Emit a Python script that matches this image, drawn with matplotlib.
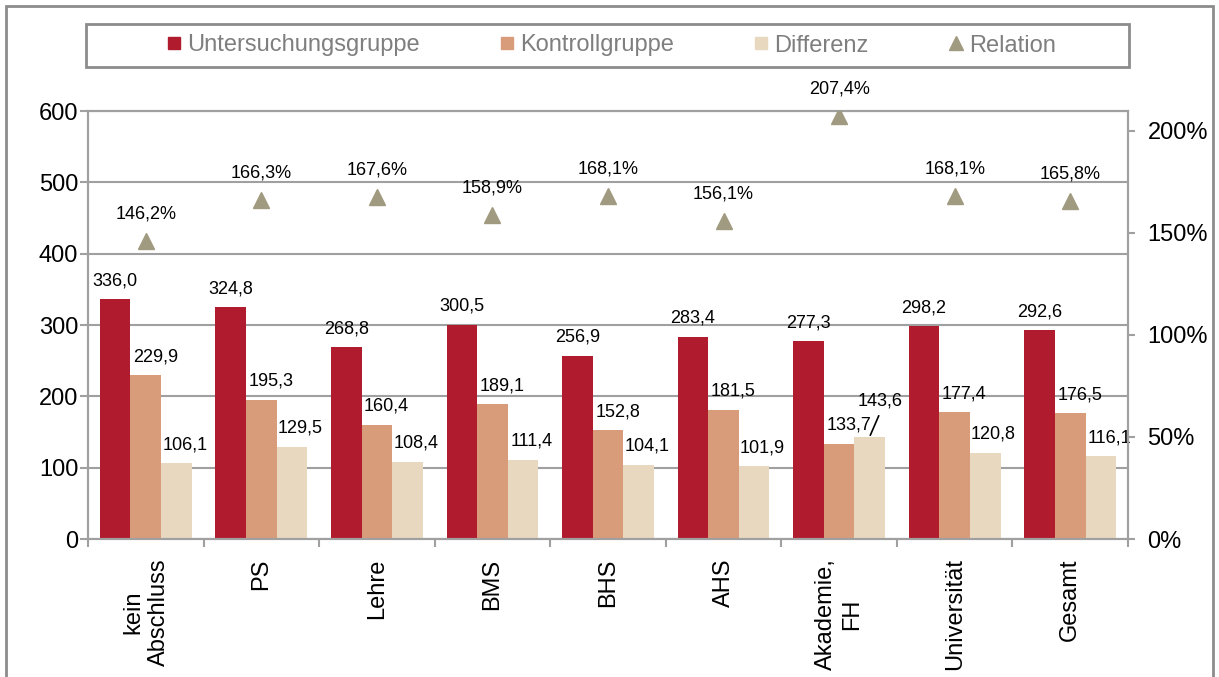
import numpy as np
import matplotlib
matplotlib.use("Agg")
import matplotlib.pyplot as plt
from matplotlib.lines import Line2D
from matplotlib.patches import Rectangle
from matplotlib.ticker import FuncFormatter

plt.rcParams['font.family'] = ['Liberation Sans', 'DejaVu Sans']

categories = ["kein\nAbschluss", "PS", "Lehre", "BMS", "BHS", "AHS", "Akademie,\nFH", "Universität", "Gesamt"]
untersuchung = [336.0, 324.8, 268.8, 300.5, 256.9, 283.4, 277.3, 298.2, 292.6]
kontroll = [229.9, 195.3, 160.4, 189.1, 152.8, 181.5, 133.7, 177.4, 176.5]
differenz = [106.1, 129.5, 108.4, 111.4, 104.1, 101.9, 143.6, 120.8, 116.1]
relation = [146.2, 166.3, 167.6, 158.9, 168.1, 156.1, 207.4, 168.1, 165.8]
series_names = ["Untersuchungsgruppe", "Kontrollgruppe", "Differenz", "Relation"]

c_red = "#B01C2E"
c_kon = "#D89C7A"
c_dif = "#E8D8C0"
c_rel = "#A09A80"
gray = "#A0A0A0"

W, H = 1219, 677
fig = plt.figure(figsize=(W / 100, H / 100), dpi=100)
ax = fig.add_axes([88 / W, 1 - 539 / H, (1128 - 88) / W, (539 - 111) / H])

x = np.arange(len(categories))
bw = 0.265
ax.bar(x - bw, untersuchung, bw, color=c_red, zorder=2)
ax.bar(x, kontroll, bw, color=c_kon, zorder=2)
ax.bar(x + bw, differenz, bw, color=c_dif, zorder=2)

ax.set_xlim(-0.5, len(categories) - 0.5)
ax.set_ylim(0, 600)
ax.set_yticks(range(0, 700, 100))
ax.yaxis.grid(True, color=gray, lw=1.5, zorder=0)
ax.set_axisbelow(True)
for s in ["left", "right", "bottom", "top"]:
    ax.spines[s].set_color(gray)
    ax.spines[s].set_linewidth(1.5)
ax.tick_params(axis="y", direction="out", length=6, color=gray, width=1.5, labelsize=17, pad=1)

ax.set_xticks(np.arange(-0.5, len(categories), 1.0))
ax.set_xticklabels([])
ax.tick_params(axis="x", which="major", direction="out", length=6, color=gray, width=1.5)
ax.set_xticks(x, minor=True)
ax.set_xticklabels(categories, minor=True, rotation=90, va="top", ha="center",
                   multialignment="center", fontsize=17)
ax.tick_params(axis="x", which="minor", length=0, pad=14)

fmt = lambda v: f"{v:.1f}".replace(".", ",")
for i in range(len(categories)):
    ax.annotate(fmt(untersuchung[i]), (x[i] - bw, untersuchung[i]), xytext=(0, 10),
                textcoords="offset points", ha="center", va="baseline", fontsize=13, zorder=5)
    ax.annotate(fmt(kontroll[i]), (x[i], kontroll[i]), xytext=(7, 10),
                textcoords="offset points", ha="center", va="baseline", fontsize=13, zorder=5)
    if i == 6:
        ax.annotate(fmt(differenz[i]), (x[i] + bw, differenz[i]), xytext=(7.5, 22.5),
                    textcoords="offset points", ha="center", va="baseline", fontsize=13, zorder=5)
        ax.annotate("", xy=(x[i] + bw, differenz[i]), xytext=(6.5, 15),
                    textcoords="offset points",
                    arrowprops=dict(arrowstyle="-", color="black", lw=1.2, shrinkA=0, shrinkB=1))
    else:
        ax.annotate(fmt(differenz[i]), (x[i] + bw, differenz[i]), xytext=(6, 10),
                    textcoords="offset points", ha="center", va="baseline", fontsize=13, zorder=5)

ax2 = ax.twinx()
ax2.set_ylim(0, 209.8)
ax2.set_yticks([0, 50, 100, 150, 200])
ax2.yaxis.set_major_formatter(FuncFormatter(lambda v, p: f"{v:.0f}%"))
ax2.plot(x, relation, linestyle="none", marker="^", markersize=12, color=c_rel, zorder=4)
for i in range(len(categories)):
    ax2.annotate(f"{relation[i]:.1f}%".replace(".", ","), (x[i], relation[i]), xytext=(0, 16),
                 textcoords="offset points", ha="center", va="baseline", fontsize=13)
for s in ["left", "right", "bottom", "top"]:
    ax2.spines[s].set_color(gray)
    ax2.spines[s].set_linewidth(1.5)
ax2.tick_params(axis="y", direction="out", length=5, color=gray, width=1.5, labelsize=17, pad=9)

# legend
handles = [
    Line2D([], [], linestyle="none", marker="s", markersize=8, color=c_red),
    Line2D([], [], linestyle="none", marker="s", markersize=8, color=c_kon),
    Line2D([], [], linestyle="none", marker="s", markersize=8, color=c_dif),
    Line2D([], [], linestyle="none", marker="^", markersize=10, color=c_rel),
]
fig.legend(handles, series_names, loc="center", bbox_to_anchor=(612 / W, 1 - 45.5 / H),
           ncol=4, frameon=False, fontsize=17, labelcolor="#7F7F7F",
           handlelength=0.5, handletextpad=0.3, columnspacing=3.45, borderpad=0)
fig.patches.append(Rectangle((86 / W, 1 - 67 / H), (1129 - 86) / W, 43 / H,
                             transform=fig.transFigure, fill=False, edgecolor="#8C8C8C", lw=2))
fig.patches.append(Rectangle((6 / W, -0.05), (1213 - 6) / W, 1 - 6 / H + 0.05,
                             transform=fig.transFigure, fill=False, edgecolor="#8C8C8C", lw=2))

fig.savefig("out.png", dpi=100)
